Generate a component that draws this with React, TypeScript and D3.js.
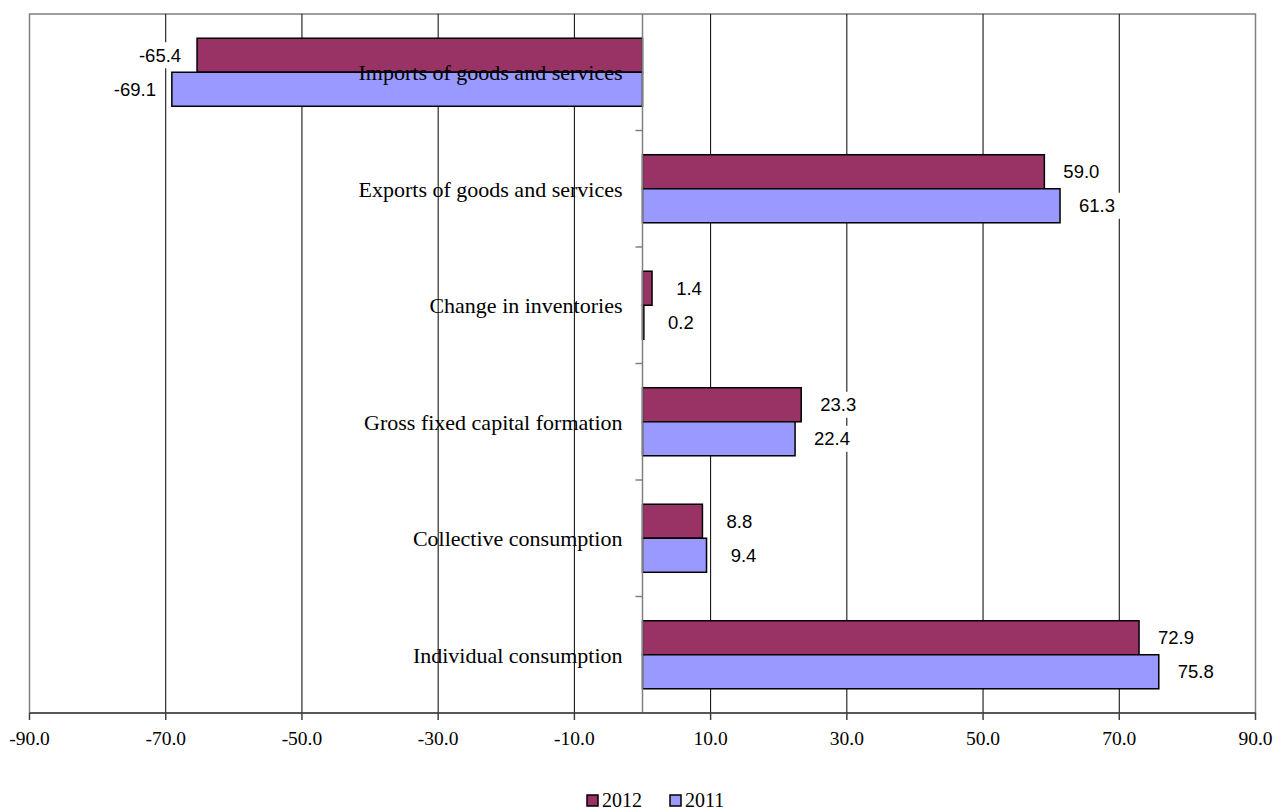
import * as d3 from "d3";
import { useEffect } from "react";

const WIDTH = 1276;
const HEIGHT = 810;
const PLOT = { left: 29.5, right: 1255.5, top: 14, bottom: 713 };

const categories = [
  "Imports of goods and services",
  "Exports of goods and services",
  "Change in inventories",
  "Gross fixed capital formation",
  "Collective consumption",
  "Individual consumption",
];
const values2012 = [-65.4, 59.0, 1.4, 23.3, 8.8, 72.9];
const values2011 = [-69.1, 61.3, 0.2, 22.4, 9.4, 75.8];
const xTicks = [-90, -70, -50, -30, -10, 10, 30, 50, 70, 90];

const series = [
  { name: "2012", values: values2012, color: "#993366" },
  { name: "2011", values: values2011, color: "#9999FF" },
];

const SERIF = "'Liberation Serif', 'Times New Roman', serif";
const SANS = "'Liberation Sans', Arial, sans-serif";

export default function App() {
  useEffect(() => {
    document.body.style.margin = "0";
  }, []);

  const x = d3.scaleLinear().domain([-90, 90]).range([PLOT.left, PLOT.right]);
  const y = d3
    .scaleBand<string>()
    .domain(categories)
    .range([PLOT.top, PLOT.bottom])
    .paddingInner(0.416)
    .paddingOuter(0.208);
  const ySeries = d3
    .scaleBand<string>()
    .domain(series.map((s) => s.name))
    .range([0, y.bandwidth()]);
  const step = y.step();
  const x0 = x(0);

  const labelFs = 18.5;

  return (
    <svg width={WIDTH} height={HEIGHT} style={{ display: "block" }}>
      <rect x={0} y={0} width={WIDTH} height={HEIGHT} fill="#fff" />
      {/* plot frame */}
      <rect
        x={PLOT.left}
        y={PLOT.top}
        width={PLOT.right - PLOT.left}
        height={PLOT.bottom - PLOT.top}
        fill="#fff"
        stroke="#808080"
        strokeWidth={1.5}
      />
      {/* gridlines */}
      {xTicks.slice(1, -1).map((t) => (
        <line
          key={t}
          x1={x(t)}
          x2={x(t)}
          y1={PLOT.top}
          y2={PLOT.bottom}
          stroke="#000"
          strokeWidth={1}
        />
      ))}
      {/* bars */}
      {categories.map((c, i) =>
        series.map((s) => {
          const v = s.values[i];
          const by = (y(c) ?? 0) + (ySeries(s.name) ?? 0);
          return (
            <rect
              key={c + s.name}
              x={Math.min(x(v), x0)}
              y={by}
              width={Math.abs(x(v) - x0)}
              height={ySeries.bandwidth()}
              fill={s.color}
              stroke="#000"
              strokeWidth={1.5}
            />
          );
        })
      )}
      {/* category axis */}
      <line x1={x0} x2={x0} y1={PLOT.top} y2={PLOT.bottom} stroke="#808080" strokeWidth={1.5} />
      {categories.slice(1).map((c) => {
        const ty = (y(c) ?? 0) - (step - y.bandwidth()) / 2;
        return <line key={c} x1={x0 - 7} x2={x0} y1={ty} y2={ty} stroke="#808080" strokeWidth={1.5} />;
      })}
      {/* category labels */}
      {categories.map((c) => (
        <text
          key={c}
          x={x0 - 20}
          y={(y(c) ?? 0) - (step - y.bandwidth()) / 2 + step / 2 + 8}
          textAnchor="end"
          fontFamily={SERIF}
          fontSize={22}
          fill="#000"
        >
          {c}
        </text>
      ))}
      {/* data labels */}
      {categories.map((c, i) =>
        series.map((s) => {
          const v = s.values[i];
          const by = (y(c) ?? 0) + (ySeries(s.name) ?? 0) + ySeries.bandwidth() / 2;
          const cx = x(v) + (v >= 0 ? 37 : -37);
          const txt = v.toFixed(1);
          const w = txt.length * labelFs * 0.53 + 8;
          return (
            <g key={"l" + c + s.name}>
              <rect x={cx - w / 2} y={by - 13} width={w} height={26} fill="#fff" />
              <text
                x={cx}
                y={by + 6.5}
                textAnchor="middle"
                fontFamily={SANS}
                fontSize={labelFs}
                fill="#000"
              >
                {txt}
              </text>
            </g>
          );
        })
      )}
      {/* value axis */}
      <line x1={PLOT.left} x2={PLOT.right} y1={PLOT.bottom} y2={PLOT.bottom} stroke="#404040" strokeWidth={1.5} />
      {xTicks.map((t) => (
        <g key={t}>
          <line x1={x(t)} x2={x(t)} y1={PLOT.bottom} y2={PLOT.bottom + 7} stroke="#404040" strokeWidth={1.5} />
          <text
            x={x(t)}
            y={745}
            textAnchor="middle"
            fontFamily={SERIF}
            fontSize={19.5}
            fill="#000"
          >
            {t.toFixed(1)}
          </text>
        </g>
      ))}
      {/* legend */}
      {series.map((s, i) => {
        const lx = 587 + i * 83;
        return (
          <g key={s.name}>
            <rect x={lx} y={795} width={11} height={11} fill={s.color} stroke="#000" strokeWidth={1.5} />
            <text x={lx + 15} y={807} fontFamily={SERIF} fontSize={20} fill="#000">
              {s.name}
            </text>
          </g>
        );
      })}
    </svg>
  );
}
